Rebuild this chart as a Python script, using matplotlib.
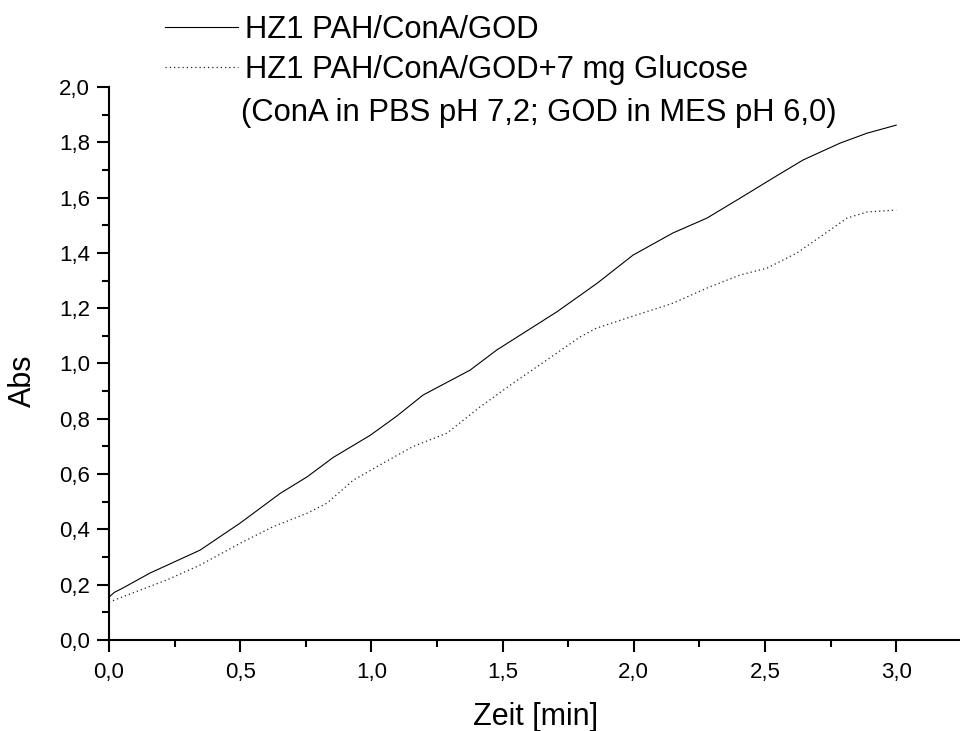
import matplotlib
matplotlib.use("Agg")
import matplotlib.pyplot as plt
from matplotlib.lines import Line2D
from matplotlib.ticker import MultipleLocator, FuncFormatter

plt.rcParams['font.family'] = ['Liberation Sans', 'DejaVu Sans']

# Absorbance kinetics
time_a = [0.0, 0.02, 0.053, 0.156, 0.347, 0.5, 0.652, 0.755, 0.854, 0.995, 1.097,
          1.197, 1.376, 1.478, 1.707, 1.86, 1.997, 2.149, 2.279, 2.405, 2.531,
          2.645, 2.786, 2.889, 3.0]
abs_a = [0.155, 0.172, 0.188, 0.242, 0.325, 0.423, 0.53, 0.59, 0.66, 0.74, 0.81,
         0.886, 0.976, 1.049, 1.187, 1.29, 1.392, 1.472, 1.526, 1.598, 1.671,
         1.736, 1.797, 1.833, 1.862]

time_b = [0.0, 0.09, 0.22, 0.347, 0.5, 0.626, 0.754, 0.831, 0.931, 1.045, 1.159,
          1.288, 1.414, 1.54, 1.669, 1.795, 1.858, 1.986, 2.149, 2.279, 2.405,
          2.508, 2.622, 2.721, 2.813, 2.889, 3.0]
abs_b = [0.137, 0.17, 0.217, 0.271, 0.35, 0.41, 0.458, 0.495, 0.578, 0.64, 0.70,
         0.748, 0.843, 0.929, 1.013, 1.096, 1.128, 1.168, 1.218, 1.273, 1.32,
         1.345, 1.40, 1.465, 1.526, 1.548, 1.555]

label_a = "HZ1 PAH/ConA/GOD"
label_b = "HZ1 PAH/ConA/GOD+7 mg Glucose"
note = "(ConA in PBS pH 7,2; GOD in MES pH 6,0)"

W, H = 960, 731
fig = plt.figure(figsize=(W / 100, H / 100), dpi=100)

x0, x1 = 0.0, 3.25
px_per_x = 262.4
left_px, bottom_px, top_px = 109, 640, 87
ax = fig.add_axes([left_px / W, (H - bottom_px) / H,
                   (x1 - x0) * px_per_x / W, (bottom_px - top_px) / H])

solid_style = dict(color='black', lw=0.8, linestyle='-', solid_joinstyle='round')
dot_style = dict(color='#222222', lw=0.9, linestyle=(0, (1.0, 2.4)))

ax.plot(time_a, abs_a, **solid_style)
ax.plot(time_b, abs_b, **dot_style)

ax.set_xlim(x0, x1)
ax.set_ylim(0, 2.0)
for s in ('top', 'right'):
    ax.spines[s].set_visible(False)
for s in ('left', 'bottom'):
    ax.spines[s].set_linewidth(1.5)

ax.xaxis.set_major_locator(MultipleLocator(0.5))
ax.xaxis.set_minor_locator(MultipleLocator(0.25))
ax.yaxis.set_major_locator(MultipleLocator(0.2))
ax.yaxis.set_minor_locator(MultipleLocator(0.1))
comma = FuncFormatter(lambda v, p: f"{v:.1f}".replace('.', ','))
ax.xaxis.set_major_formatter(comma)
ax.yaxis.set_major_formatter(comma)
ax.tick_params(which='major', direction='out', length=8.6, width=1.5,
               labelsize=16, pad=7)
ax.tick_params(which='minor', direction='out', length=4.7, width=1.5)
ax.tick_params(axis='y', pad=5)

fig.text(536 / W, 1 - 725 / H, "Zeit [min]", fontsize=22,
         ha='center', va='baseline')
fig.text(23 / W, 1 - 381 / H, "Abs", fontsize=22, rotation=90,
         ha='center', va='center')

# Key in the upper area
def fx(px):
    return px / W

def fy(py):
    return 1 - py / H

fig.add_artist(Line2D([fx(165), fx(238)], [fy(27), fy(27)],
                      transform=fig.transFigure, **solid_style))
fig.add_artist(Line2D([fx(165), fx(238)], [fy(67), fy(67)],
                      transform=fig.transFigure, **dot_style))
fig.text(fx(245), fy(38), label_a, fontsize=22.3, va='baseline', ha='left')
fig.text(fx(245), fy(78), label_b, fontsize=22.3, va='baseline', ha='left')
fig.text(fx(241), fy(121), note, fontsize=22.3, va='baseline', ha='left')

fig.savefig("out.png", dpi=100)
